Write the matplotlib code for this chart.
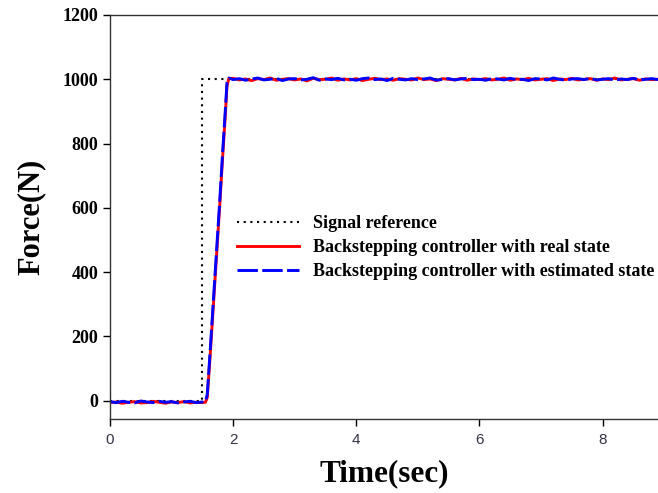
import numpy as np
import matplotlib.pyplot as plt

# reference step signal
ref_t = [0, 1.5, 1.5, 8.9]
ref_f = [0, 0, 1000, 1000]

# values (before step, rise, after step)
red_pre = [-6, -4, -8, -5, -3, -7, -6, -2, -5, -8, -4, -6, -3, -7, -5, -6]
blue_pre = [-3, -6, -2, -5, -7, -1, -4, -6, -2, -5, -3, -7, -4, -2, -6, -4]

rise_t = [1.55, 1.58, 1.63, 1.68, 1.73, 1.78, 1.83, 1.87, 1.90, 1.93]
red_rise = [-5, 10, 150, 300, 450, 600, 760, 880, 980, 1002]
blue_rise = [-3, 20, 165, 315, 465, 615, 775, 895, 990, 1004]

red_post = [1003, 998, 1001, 996, 1002, 999, 1004, 997, 1000, 1002,
            998, 1001, 995, 1003, 999, 1000, 1004, 997, 1001, 998,
            1002, 996, 1000, 1003, 999, 1001, 997, 1002, 1000, 998,
            1004, 999, 1001, 996, 1002, 1000, 998, 1003, 997, 1001,
            999, 1002, 998, 1000, 1004, 997, 1001, 999, 1003, 998,
            1000, 1002, 996, 1001, 999, 1003, 998, 1000, 1002, 997,
            1001, 999, 1004, 998, 1000, 1002, 997, 1001, 999, 1000]
blue_post = [999, 1002, 997, 1001, 1004, 998, 1000, 1003, 996, 1001,
             1002, 998, 1000, 1005, 997, 1001, 999, 1003, 998, 1000,
             997, 1002, 1004, 999, 1001, 996, 1003, 1000, 998, 1002,
             999, 1001, 1004, 997, 1000, 1002, 998, 1001, 1003, 999,
             1000, 997, 1002, 1001, 998, 1003, 999, 1000, 996, 1002,
             1001, 998, 1004, 1000, 997, 1001, 1002, 999, 1003, 998,
             1000, 1002, 997, 1001, 999, 1003, 998, 1000, 1002, 999]

pre_t = np.linspace(0, 1.5, len(red_pre))
post_t = np.linspace(2.0, 8.9, len(red_post))

red_t = np.concatenate([pre_t, rise_t, post_t])
red_f = np.concatenate([red_pre, red_rise, red_post])
blue_t = np.concatenate([np.linspace(0, 1.5, len(blue_pre)), rise_t,
                         np.linspace(2.0, 8.9, len(blue_post))])
blue_f = np.concatenate([blue_pre, blue_rise, blue_post])

fig = plt.figure(figsize=(6.58, 4.93), dpi=100)
ax = fig.add_axes([110/658, 1-419/493, 548/658, 404/493])

ax.plot(ref_t, ref_f, color='black', ls=(0, (1, 2.2)), lw=1.5, label='Signal reference')
ax.plot(red_t, red_f, color='#ff0000', lw=2.1, label='Backstepping controller with real state')
ax.plot(blue_t, blue_f, color='#0000ff', lw=2.1, ls=(0, (7, 1.5)),
        label='Backstepping controller with estimated state')

ax.set_xlim(0, 8.9)
ax.set_ylim(-57, 1200)
ax.set_xticks([0, 2, 4, 6, 8])
ax.set_yticks([0, 200, 400, 600, 800, 1000, 1200])

ax.spines['right'].set_visible(False)
for s in ['left', 'bottom', 'top']:
    ax.spines[s].set_linewidth(1.0)
    ax.spines[s].set_color('#333333')
ax.tick_params(direction='out', length=5, width=1, top=False, right=False)

for lab in ax.get_yticklabels():
    lab.set_family('Liberation Serif')
    lab.set_fontweight('bold')
    lab.set_fontsize(13)
for lab in ax.get_xticklabels():
    lab.set_family('Liberation Sans')
    lab.set_fontsize(11)
    lab.set_color('#333344')
ax.tick_params(axis='x', pad=5)

ax.set_xlabel('Time(sec)', family='Liberation Serif', fontweight='bold', fontsize=22.5, labelpad=9)
ax.set_ylabel('Force(N)', family='Liberation Serif', fontweight='bold', fontsize=22, labelpad=12)

leg = ax.legend(loc='upper left', bbox_to_anchor=(221/658, 1-199/493),
                bbox_transform=fig.transFigure, frameon=False,
                prop={'family': 'Liberation Serif', 'weight': 'bold', 'size': 13},
                handlelength=3.4, handletextpad=0.8, labelspacing=0.38)

fig.savefig('out.png', dpi=100)
